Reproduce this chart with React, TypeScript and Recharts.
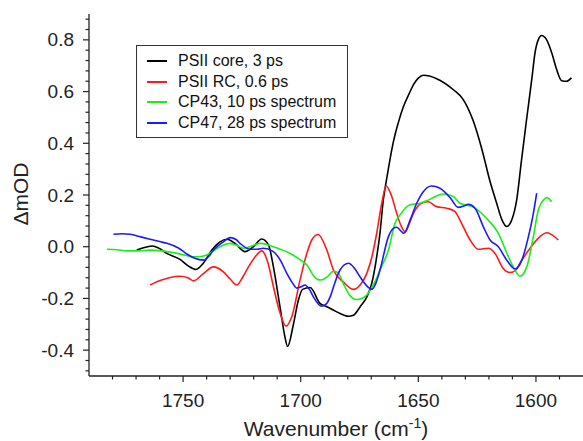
import React from 'react';
import { LineChart, Line, XAxis, YAxis, Legend, Label } from 'recharts';

type Pt = { x: number; y: number };
const toPts = (a: number[][]): Pt[] => a.map(([x, y]) => ({ x, y }));

const psiiCore = toPts([
  [1769.7, -0.013], [1766, -0.002], [1763, 0.003], [1759.5, -0.01], [1756.9, -0.026], [1751.3, -0.049],
  [1747.7, -0.075], [1744.5, -0.088], [1741.4, -0.064], [1737.8, -0.013], [1734.3, 0.019], [1731.4, 0.029],
  [1727.9, 0.013], [1723.7, -0.019], [1720.1, 0.0], [1716.6, 0.03], [1713.7, 0.007], [1711.6, -0.078],
  [1708.8, -0.233], [1706.7, -0.349], [1705.6, -0.386], [1703.1, -0.3], [1701.0, -0.207], [1699.2, -0.165],
  [1696, -0.158], [1691.8, -0.219], [1688.9, -0.232], [1684.7, -0.252], [1679.7, -0.269], [1677.6, -0.265],
  [1674.8, -0.233], [1671.9, -0.194], [1669.8, -0.142], [1667.7, -0.039], [1666.3, 0.053], [1664.9, 0.18],
  [1663.5, 0.26], [1662, 0.34], [1660.5, 0.41], [1658.5, 0.48], [1656.4, 0.54], [1654, 0.59],
  [1652, 0.628], [1650, 0.652], [1647.9, 0.663], [1642.2, 0.65],
  [1635.1, 0.607], [1630.9, 0.569], [1626.6, 0.485], [1623.1, 0.381], [1619.5, 0.252], [1616.7, 0.168],
  [1614.5, 0.105], [1612.4, 0.078], [1610.3, 0.103], [1608.2, 0.18], [1606.2, 0.33], [1604.0, 0.491],
  [1601.8, 0.646], [1600.4, 0.75], [1599.0, 0.801], [1597.6, 0.817], [1595.5, 0.801], [1593.3, 0.75],
  [1591.2, 0.685], [1589.1, 0.642], [1587.0, 0.64], [1584.9, 0.653],
]);

const psiiRC = toPts([
  [1764, -0.148], [1759.5, -0.13], [1755.5, -0.119], [1751.3, -0.114], [1748, -0.12], [1745.6, -0.132],
  [1741.5, -0.105], [1737.1, -0.078], [1732.9, -0.097], [1730, -0.125], [1727.2, -0.148], [1724.5, -0.115],
  [1722.2, -0.078], [1719, -0.035], [1716.6, -0.016], [1714, -0.06], [1711.6, -0.155], [1709, -0.25],
  [1706.2, -0.307], [1703.8, -0.271], [1700.3, -0.129], [1697.4, -0.026], [1695.3, 0.026], [1692.6, 0.047],
  [1688.9, -0.013], [1686.1, -0.09], [1681.9, -0.136], [1677.6, -0.165], [1674.5, -0.145], [1671.9, -0.103],
  [1669.5, -0.03], [1667.7, 0.052], [1665.5, 0.17], [1663.7, 0.235], [1661.5, 0.2], [1659.2, 0.129],
  [1657.3, 0.08], [1655.6, 0.058], [1653.8, 0.09], [1652.1, 0.129], [1648.6, 0.168], [1645.8, 0.174],
  [1642.2, 0.155], [1638, 0.149], [1634.4, 0.136], [1632.3, 0.103], [1628, 0.026], [1624.5, -0.01],
  [1620.2, -0.006], [1617.4, -0.026], [1613.9, -0.084], [1611, -0.1], [1608.5, -0.09], [1606.8, -0.064],
  [1602.5, -0.006], [1598.3, 0.039], [1595.4, 0.054], [1593, 0.045], [1590.5, 0.026],
]);

const cp43 = toPts([
  [1782.4, -0.01], [1778, -0.012], [1773.9, -0.016], [1769, -0.016], [1764, -0.013], [1759, -0.016],
  [1754.1, -0.023], [1749, -0.033], [1745.6, -0.039], [1742.5, -0.038], [1739.9, -0.032], [1737, -0.015],
  [1734.3, 0.0], [1730, 0.013], [1727, 0.005], [1724.4, -0.006], [1720.5, 0.004], [1717.3, 0.013],
  [1714, 0.008], [1711.6, 0.0], [1708, -0.012], [1704.5, -0.026], [1700.3, -0.05], [1697, -0.075],
  [1694.6, -0.112], [1691.5, -0.129], [1688.5, -0.115], [1686.1, -0.095], [1684.2, -0.1], [1681.5, -0.15],
  [1679, -0.19], [1676.5, -0.204], [1674, -0.2], [1671.9, -0.187], [1670.5, -0.168], [1668.4, -0.135],
  [1666.3, -0.09], [1662.7, -0.013], [1659.9, 0.091], [1657.8, 0.123], [1653.5, 0.162], [1649.3, 0.168],
  [1645, 0.184], [1639.4, 0.204], [1635.1, 0.194], [1632.3, 0.168], [1626.6, 0.153], [1621, 0.11],
  [1616, 0.052], [1611.7, -0.039], [1608.9, -0.09], [1606.8, -0.114], [1603.9, -0.078], [1601.1, 0.039],
  [1599, 0.142], [1596.8, 0.181], [1595.4, 0.19], [1593.3, 0.174],
]);

const cp47 = toPts([
  [1779.6, 0.048], [1776, 0.05], [1772.5, 0.048], [1768, 0.038], [1764, 0.029], [1760, 0.02],
  [1756.9, 0.013], [1752, -0.005], [1748.4, -0.028], [1745, -0.045], [1741.4, -0.052], [1739, -0.037],
  [1737.1, -0.013], [1732.9, 0.019], [1730, 0.035], [1727.5, 0.028], [1725.8, 0.013], [1721.5, -0.01],
  [1718.5, -0.01], [1715.9, -0.006], [1711.6, -0.019], [1708.5, -0.055], [1705.9, -0.103], [1703.5, -0.14],
  [1701.7, -0.16], [1699.8, -0.155], [1698.2, -0.148], [1696.3, -0.165], [1694.6, -0.194], [1691.1, -0.23],
  [1689, -0.22], [1687.5, -0.194], [1685.5, -0.14], [1683.3, -0.09], [1679.7, -0.064], [1677, -0.085],
  [1674.8, -0.116], [1671.5, -0.155], [1669.8, -0.165], [1668, -0.14], [1666.3, -0.09], [1662.7, 0.039],
  [1660.6, 0.071], [1659.2, 0.075], [1657.1, 0.058], [1656.1, 0.052], [1653.5, 0.103], [1650.7, 0.168],
  [1647.9, 0.213], [1644.4, 0.235], [1640.8, 0.226], [1636.5, 0.19], [1633, 0.152], [1630.5, 0.158],
  [1628.8, 0.164], [1625.9, 0.149], [1622.4, 0.078], [1619.5, 0.026], [1616, 0.0], [1612.4, -0.052],
  [1608.9, -0.086], [1606, -0.052], [1603.2, 0.039], [1601.1, 0.129], [1599.7, 0.207],
]);

const seriesNames = ['PSII core, 3 ps', 'PSII RC, 0.6 ps', 'CP43, 10 ps spectrum', 'CP47, 28 ps spectrum'];
const seriesColors = ['#000000', '#ff1a1a', '#19ee19', '#1a1aff'];

const xMajorTicks = [1750, 1700, 1650, 1600];
const xAllTicks = [1780, 1770, 1760, 1750, 1740, 1730, 1720, 1710, 1700, 1690, 1680, 1670, 1660, 1650, 1640, 1630, 1620, 1610, 1600, 1590];
const yMajorTicks = [-0.4, -0.2, 0, 0.2, 0.4, 0.6, 0.8];
const yAllTicks = [-0.48, -0.44, -0.4, -0.36, -0.32, -0.28, -0.24, -0.2, -0.16, -0.12, -0.08, -0.04, 0,
  0.04, 0.08, 0.12, 0.16, 0.2, 0.24, 0.28, 0.32, 0.36, 0.4, 0.44, 0.48, 0.52, 0.56, 0.6, 0.64, 0.68, 0.72, 0.76, 0.8, 0.84, 0.88];

const FONT = '"Liberation Sans", Arial, Helvetica, sans-serif';
const AXIS = '#222';

const XTick = (props: any) => {
  const { x, y, payload } = props;
  const v = payload.value;
  const major = xMajorTicks.some((m) => Math.abs(m - v) < 1e-6);
  return (
    <g>
      <line x1={x} x2={x} y1={y} y2={y + (major ? 6 : 3.5)} stroke={AXIS} strokeWidth={1.2} />
      {major && (
        <text x={x} y={y + 31} textAnchor="middle" fontSize={19} fontFamily={FONT} fill="#222">{v}</text>
      )}
    </g>
  );
};

const YTick = (props: any) => {
  const { x, y, payload } = props;
  const v = payload.value;
  const major = yMajorTicks.some((m) => Math.abs(m - v) < 1e-6);
  return (
    <g>
      <line x1={x} x2={x - (major ? 6 : 3.5)} y1={y} y2={y} stroke={AXIS} strokeWidth={1.2} />
      {major && (
        <text x={x - 15} y={y + 6.5} textAnchor="end" fontSize={19} fontFamily={FONT} fill="#222">{v.toFixed(1)}</text>
      )}
    </g>
  );
};

const renderLegend = () => (
  <div style={{ width: 212, height: 93, border: '1.3px solid #333', boxSizing: 'border-box', background: '#fff', position: 'relative', fontFamily: FONT, fontSize: 16, color: '#111' }}>
    {seriesNames.map((n, i) => (
      <div key={n} style={{ position: 'absolute', left: 0, top: 5 + i * 21 - (i > 1 ? 1 : 0), height: 20, width: 210 }}>
        <div style={{ position: 'absolute', left: 10, top: 9, width: 20, height: 2, backgroundColor: seriesColors[i] }} />
        <div style={{ position: 'absolute', left: 41, top: 0, lineHeight: '20px', whiteSpace: 'nowrap' }}>{n}</div>
      </div>
    ))}
  </div>
);

const series = [psiiCore, psiiRC, cp43, cp47];

export default function App() {
  return (
    <div style={{ position: 'absolute', left: 0, top: 0, width: 583, height: 441, background: '#fff' }}>
      <LineChart width={583} height={441} margin={{ top: 14, right: 0, bottom: 0, left: 0 }}>
        <XAxis
          type="number"
          dataKey="x"
          domain={[1580, 1790]}
          reversed
          allowDataOverflow
          ticks={xAllTicks}
          interval={0}
          tick={<XTick />}
          tickLine={false}
          tickSize={0}
          tickMargin={0}
          height={65}
          axisLine={{ stroke: AXIS, strokeWidth: 1.3 }}
        >
          <Label
            content={() => (
              <text x={336} y={436} textAnchor="middle" fontSize={21} fontFamily={FONT} fill="#222">
                <tspan>Wavenumber (cm</tspan>
                <tspan dy={-8} fontSize={14}>-1</tspan>
                <tspan dy={8}>)</tspan>
              </text>
            )}
          />
        </XAxis>
        <YAxis
          type="number"
          domain={[-0.5, 0.9]}
          allowDataOverflow
          ticks={yAllTicks}
          interval={0}
          tick={<YTick />}
          tickLine={false}
          tickSize={0}
          tickMargin={0}
          width={89}
          axisLine={{ stroke: AXIS, strokeWidth: 1.3 }}
        >
          <Label
            content={() => (
              <text x={20} y={194} transform="rotate(-90 20 194)" textAnchor="middle" dominantBaseline="central" fontSize={21} fontFamily={FONT} fill="#222">
                ΔmOD
              </text>
            )}
          />
        </YAxis>
        <Legend layout="vertical" align="center" verticalAlign="middle" wrapperStyle={{ left: 136, top: 45, width: 212, height: 93 }} content={renderLegend} />
        {series.map((d, i) => (
          <Line
            key={seriesNames[i]}
            data={d}
            dataKey="y"
            name={seriesNames[i]}
            type="monotone"
            stroke={seriesColors[i]}
            strokeWidth={1.6}
            dot={false}
            activeDot={false}
            isAnimationActive={false}
          />
        ))}
      </LineChart>
    </div>
  );
}
